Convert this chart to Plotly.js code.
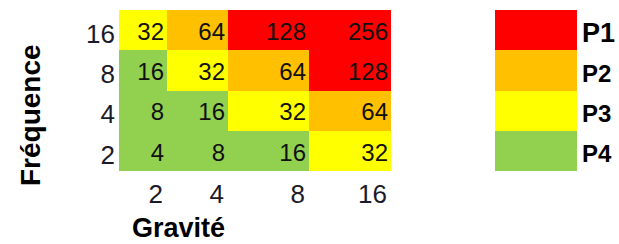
<!DOCTYPE html>
<html>
<head>
<meta charset="utf-8">
<script src="https://cdn.plot.ly/plotly-3.0.1.min.js"></script>
<style>
html,body{margin:0;padding:0;background:#fff;}
#chart{width:619px;height:244px;}
</style>
</head>
<body>
<div id="chart"></div>
<script>
// ---- data ----
const gravite = [2, 4, 8, 16];          // columns (x)
const frequence = [2, 4, 8, 16];        // rows (y), bottom to top
// criticity values, rows bottom (freq 2) to top (freq 16)
const valeurs = [
  [4, 8, 16, 32],
  [8, 16, 32, 64],
  [16, 32, 64, 128],
  [32, 64, 128, 256]
];
// priority class of each cell (1 = P1 ... 4 = P4)
const priorites = [
  [4, 4, 4, 3],
  [4, 4, 3, 2],
  [4, 3, 2, 1],
  [3, 2, 1, 1]
];
const prioLabels = ["P1", "P2", "P3", "P4"];
const xTitle = "Gravité";
const yTitle = "Fréquence";

// ---- layout helpers (not data) ----
const colEdges = [0, 48, 109, 190, 272];   // uneven column widths (px)
const rowEdges = [0, 1, 2, 3, 4];
const W = 619, H = 244;
const RED = "#FF0000", ORANGE = "#FFC000", YELLOW = "#FFFF00", GREEN = "#92D050";
const cs = [[0, RED], [0.25, RED], [0.25, ORANGE], [0.5, ORANGE], [0.5, YELLOW], [0.75, YELLOW], [0.75, GREEN], [1, GREEN]];
const FONT = "Liberation Sans, Arial, sans-serif";

const traces = [];
traces.push({
  type: "heatmap",
  x: colEdges, y: rowEdges, z: priorites,
  colorscale: cs, zmin: 0.5, zmax: 4.5, showscale: false,
  hoverinfo: "skip", xgap: 0, ygap: 0
});
// cell numbers, right aligned
const tx = [], ty = [], tt = [];
for (let r = 0; r < frequence.length; r++) {
  for (let c = 0; c < gravite.length; c++) {
    tx.push(colEdges[c + 1] - 3);
    ty.push(r + 0.5 - 0.09);
    tt.push(String(valeurs[r][c]));
  }
}
traces.push({
  type: "scatter", mode: "text", x: tx, y: ty, text: tt,
  textposition: "middle left",
  textfont: {family: FONT, size: 24, color: "#111"},
  hoverinfo: "skip", showlegend: false
});
// legend column
traces.push({
  type: "heatmap", xaxis: "x2", yaxis: "y2",
  x: [0, 1], y: rowEdges, z: [[4], [3], [2], [1]],
  colorscale: cs, zmin: 0.5, zmax: 4.5, showscale: false, hoverinfo: "skip"
});

const layout = {
  width: W, height: H,
  margin: {l: 0, r: 0, t: 0, b: 0},
  paper_bgcolor: "#fff", plot_bgcolor: "#fff",
  showlegend: false,
  font: {family: FONT, color: "#1a1a1a"},
  xaxis: {
    domain: [119 / W, 391 / W], range: [0, 272],
    tickmode: "array",
    tickvals: colEdges.slice(1).map(v => v - 4),
    ticktext: gravite.map(String),
    ticklabelposition: "outside left",
    showgrid: false, zeroline: false, showline: false, ticks: "",
    tickfont: {size: 26, family: FONT, color: "#1a1a2a"},
    ticklabelstandoff: 5,
    fixedrange: true
  },
  yaxis: {
    domain: [1 - 171 / H, 1 - 10 / H], range: [0, 4],
    tickmode: "array",
    tickvals: frequence.map((f, i) => i + 0.5 - 0.09),
    ticktext: frequence.map(String),
    showgrid: false, zeroline: false, showline: false, ticks: "",
    tickfont: {size: 26, family: FONT, color: "#1a1a2a"},
    ticklabelstandoff: 3,
    fixedrange: true
  },
  xaxis2: {
    domain: [495 / W, 577 / W], range: [0, 1], anchor: "y2",
    showticklabels: false, showgrid: false, zeroline: false, ticks: "", fixedrange: true
  },
  yaxis2: {
    domain: [1 - 171 / H, 1 - 10 / H], range: [0, 4], anchor: "x2", side: "right",
    tickmode: "array",
    tickvals: [3.5 - 0.08, 2.5 - 0.08, 1.5 - 0.08, 0.5 - 0.08],
    ticktext: prioLabels.map((p, i) => i === 0 ? "<b><span style='font-size:27px'>" + p + "</span></b>" : "<b>" + p + "</b>"),
    showgrid: false, zeroline: false, showline: false, ticks: "",
    tickfont: {size: 24, family: FONT, color: "#000"},
    ticklabelstandoff: 4,
    fixedrange: true
  },
  annotations: [
    {text: "<b>" + xTitle + "</b>", xref: "paper", yref: "paper", x: 178 / W, y: 0,
     xanchor: "center", yanchor: "bottom", showarrow: false, borderpad: 0,
     font: {family: FONT, size: 27, color: "#000"}},
    {text: "<b>" + yTitle + "</b>", xref: "paper", yref: "paper", x: 30 / W, y: 1 - 115 / H,
     xanchor: "center", yanchor: "middle", showarrow: false, textangle: -90,
     font: {family: FONT, size: 28, color: "#000"}}
  ]
};

Plotly.newPlot("chart", traces, layout, {staticPlot: true, displayModeBar: false});
</script>
</body>
</html>
